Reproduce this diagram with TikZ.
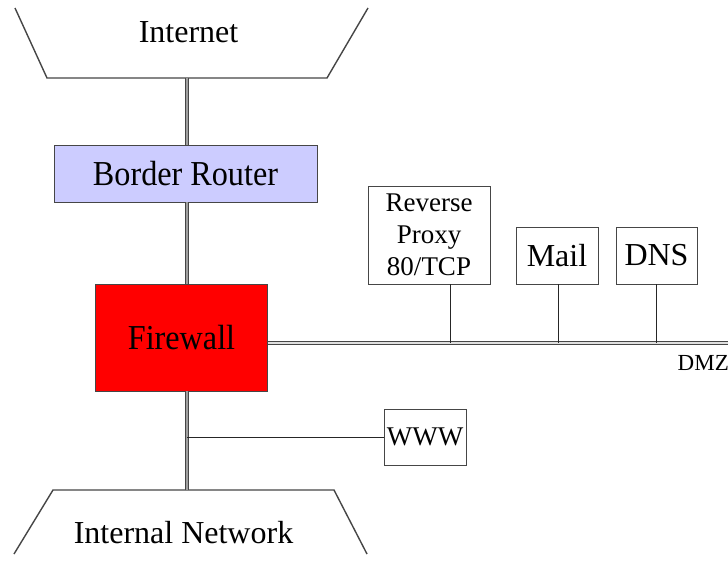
\documentclass[tikz,border=0pt]{standalone}
\usepackage{fontspec}
\setmainfont{Liberation Serif}
\newfontfamily\narrowserif[FakeStretch=0.92]{Liberation Serif}
\definecolor{routerblue}{RGB}{204,204,255}
\definecolor{fwred}{RGB}{255,0,0}
\definecolor{edgegray}{RGB}{70,70,70}
\begin{document}
\begin{tikzpicture}[x=1pt,y=-1pt,
  box/.style={draw=edgegray,line width=0.9pt,inner sep=0pt,align=center},
  bigtxt/.style={font=\fontsize{32}{32}\selectfont},
  tallbig/.style={font=\narrowserif\fontsize{35}{35}\selectfont},
  midtxt/.style={font=\fontsize{27}{32}\selectfont},
  cloudedge/.style={draw=edgegray,line width=1.4pt},
  trunk/.style={draw=edgegray,line width=1pt,double=gray!75,double distance=2.5pt},
  dmzline/.style={draw=edgegray,line width=0.8pt,double=gray!25,double distance=1.6pt},
  drop/.style={draw=black!85,line width=0.9pt}]
\useasboundingbox (0,0) rectangle (728,560);
\fill[white] (0,0) rectangle (728,560);
% clouds
\draw[cloudedge] (15,8) -- (47,78) -- (327,78) -- (368,8);
\draw[cloudedge] (14,554) -- (53,490) -- (334,490) -- (367,554);
\node[bigtxt,anchor=base] (internet) at (188.5,42) {Internet};
\node[bigtxt,anchor=base] (internal) at (183.5,543) {Internal Network};
\coordinate (inetb) at (187,78);
\coordinate (intt) at (187,490);
\coordinate (dmzend) at (729,343);
% nodes
\node[box,tallbig,fill=routerblue,minimum width=263pt,minimum height=57pt] (router) at (185.5,173.5) {Border Router};
\node[box,tallbig,fill=fwred,minimum width=172pt,minimum height=107pt] (firewall) at (181.5,337.5) {Firewall};
\node[box,midtxt,fill=white,minimum width=122pt,minimum height=98pt] (proxy) at (429,235) {Reverse\\Proxy\\80/TCP};
\node[box,bigtxt,fill=white,minimum width=82pt,minimum height=57pt] (mail) at (557,255.5) {Mail};
\node[box,bigtxt,fill=white,minimum width=81pt,minimum height=57pt] (dns) at (656.5,255.5) {DNS};
\node[box,midtxt,fill=white,minimum width=82pt,minimum height=56pt] (www) at (425,437) {WWW};
\node[font=\fontsize{23}{23}\selectfont,anchor=base east,inner sep=0pt] (dmz) at (729,370) {DMZ};
% connectors
\draw[trunk] (inetb) -- (inetb |- router.north);
\draw[trunk] (inetb |- router.south) -- (inetb |- firewall.north);
\draw[trunk] (inetb |- firewall.south) -- (intt);
\draw[drop] (www.west) -- (www.west -| inetb);
\draw[dmzline] (firewall.east |- dmzend) -- (dmzend);
\draw[drop] ([xshift=21pt]proxy.south) -- ([xshift=21pt]proxy.south |- dmzend);
\draw[drop] ([xshift=1pt]mail.south) -- ([xshift=1pt]mail.south |- dmzend);
\draw[drop] (dns.south) -- (dns.south |- dmzend);
\end{tikzpicture}
\end{document}
